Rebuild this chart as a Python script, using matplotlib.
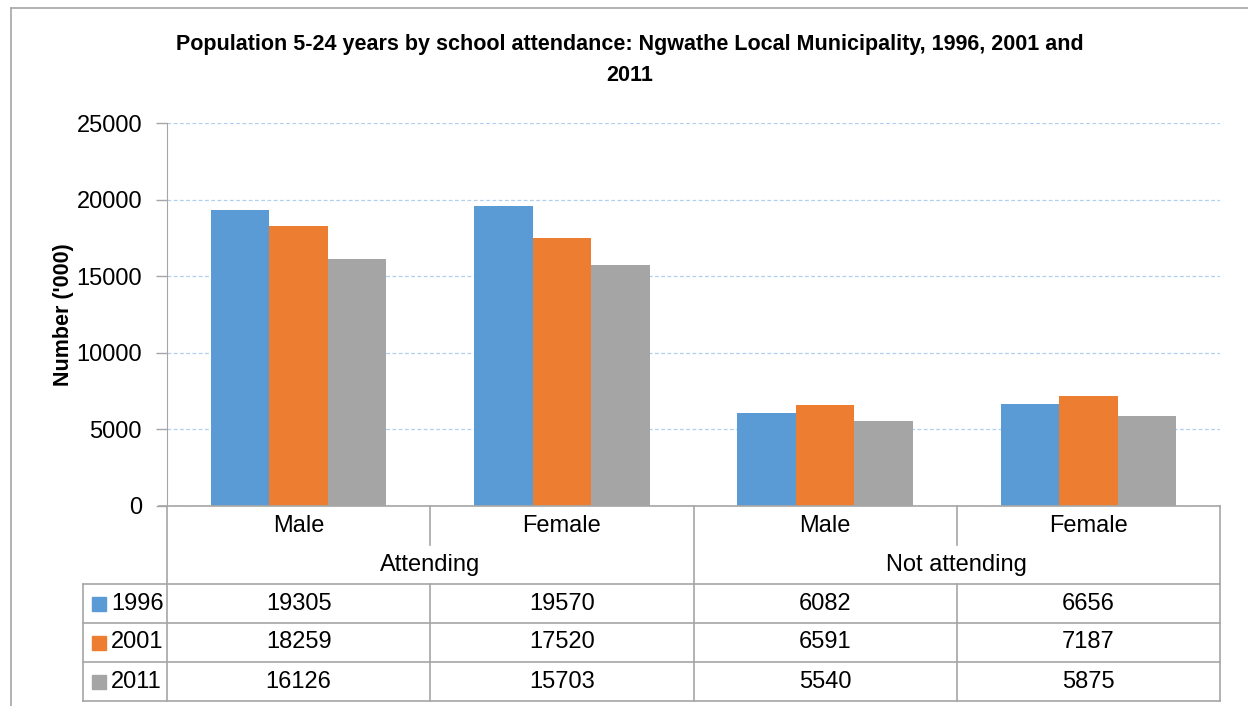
import matplotlib.pyplot as plt
from matplotlib.lines import Line2D
from matplotlib.patches import Rectangle
from matplotlib.transforms import blended_transform_factory
import numpy as np

# data
categories = ["Male", "Female", "Male", "Female"]
groups = ["Attending", "Not attending"]
years = ["1996", "2001", "2011"]
vals_1996 = [19305, 19570, 6082, 6656]
vals_2001 = [18259, 17520, 6591, 7187]
vals_2011 = [16126, 15703, 5540, 5875]
colors = ["#5B9BD5", "#ED7D31", "#A5A5A5"]

plt.rcParams["font.family"] = ["Liberation Sans", "DejaVu Sans"]
LINE = "#A6A6A6"

W, H = 1248, 706
fig = plt.figure(figsize=(W / 100, H / 100), dpi=100)


def fx(px):
    return px / W


def fy(py):
    return 1 - py / H


# plot area in pixels
x0, x1, ytop, ybot = 167, 1220, 123, 506
ax = fig.add_axes([fx(x0), fy(ybot), fx(x1) - fx(x0), fy(ytop) - fy(ybot)])

series = [vals_1996, vals_2001, vals_2011]
n = len(series)
bw = 1 / (n + 1.5)
x = np.arange(len(categories))
for i, (vals, c) in enumerate(zip(series, colors)):
    ax.bar(x + (i - (n - 1) / 2) * bw, vals, width=bw, color=c, zorder=3)

ax.set_xlim(-0.5, len(categories) - 0.5)
ax.set_ylim(0, 25000)
ax.set_yticks(np.arange(0, 25001, 5000))
ax.set_xticks([])
ax.tick_params(axis="y", length=8, width=1, color=LINE, pad=10, labelsize=17)
ax.yaxis.grid(True, linestyle=(0, (3, 2)), color="#B0CFEE", linewidth=0.9, zorder=0)
for s in ["top", "right", "bottom"]:
    ax.spines[s].set_visible(False)
ax.spines["left"].set_color(LINE)
ax.set_ylabel("Number ('000)", fontsize=15.5, fontweight="bold", labelpad=2)

fig.suptitle("Population 5-24 years by school attendance: Ngwathe Local Municipality, 1996, 2001 and\n2011",
             x=fx(630), y=fy(34), va="top", fontsize=15.5, fontweight="bold", linespacing=1.65)

# data table below the axis
tr = blended_transform_factory(ax.transData, fig.transFigure)
rows_y = [506, 545, 584, 623, 662, 701]
leg_x = 83


def hline(py, xa, xb):
    fig.add_artist(Line2D([fx(xa), fx(xb)], [fy(py), fy(py)], color=LINE, lw=1.2))


def vline(px, ya, yb):
    fig.add_artist(Line2D([fx(px), fx(px)], [fy(ya), fy(yb)], color=LINE, lw=1.2))


hline(506, 159, x1)
for py in rows_y[2:]:
    hline(py, leg_x, x1)
vline(leg_x, 584, 701)
vline(x0, 506, 701)
vline(x1, 506, 701)
col_px = [x0 + (x1 - x0) * k / len(categories) for k in range(len(categories) + 1)]
for k, px in enumerate(col_px[1:-1], start=1):
    if k == 2:
        vline(px, 506, 701)
    else:
        vline(px, 506, 545)
        vline(px, 584, 701)

for i, cat in enumerate(categories):
    fig.text(x[i], fy(526), cat, transform=tr, ha="center", va="center", fontsize=17)
for g, name in enumerate(groups):
    fig.text(2 * g + 0.5, fy(565), name, transform=tr, ha="center", va="center", fontsize=17)

for r, (yr, vals, c) in enumerate(zip(years, series, colors)):
    yc = (rows_y[2 + r] + rows_y[3 + r]) / 2
    fig.add_artist(Rectangle((fx(92), fy(yc + 7)), fx(14), 14 / H, color=c, transform=fig.transFigure))
    fig.text(fx(111), fy(yc), yr, ha="left", va="center", fontsize=17)
    for i, v in enumerate(vals):
        fig.text(x[i], fy(yc), str(v), transform=tr, ha="center", va="center", fontsize=17)

# outer chart frame
hline(8, 11, W)
vline(11, 8, H)

fig.savefig("out.png", dpi=100)
